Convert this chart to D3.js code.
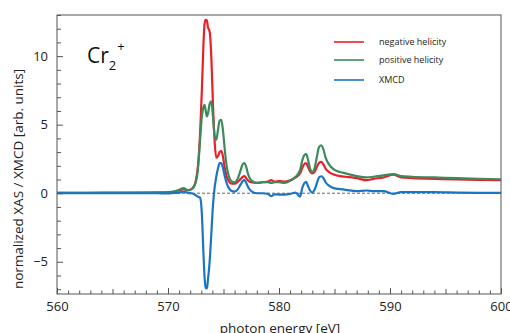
<!DOCTYPE html>
<html><head><meta charset="utf-8">
<script src="https://cdn.jsdelivr.net/npm/d3@7"></script>
<style>body{margin:0;background:#fff}svg{display:block}text{font-family:"Open Sans",sans-serif}</style>
</head><body><svg id="c" width="510" height="333"></svg>
<script>
const energy = [560,562,564,566,568,569,570,570.5,571,571.4,571.8,572.2,572.5,572.7,572.9,573.05,573.2,573.3,573.4,573.5,573.6,573.75,573.9,574.05,574.2,574.35,574.5,574.65,574.8,574.95,575.1,575.3,575.5,575.75,576.0,576.3,576.55,576.75,576.9,577.05,577.25,577.5,578.0,578.5,579.0,579.3,579.6,580.0,580.5,581.0,581.5,581.9,582.1,582.3,582.45,582.6,582.8,583.0,583.2,583.4,583.6,583.8,584.0,584.2,584.5,585.0,585.5,586.0,587.0,587.9,588.5,589.4,590.3,591,592,594,596,598,600];
const negHel = [0.02,0.02,0.03,0.03,0.04,0.05,0.07,0.1,0.2,0.3,0.2,0.35,0.9,2.0,4.5,7.5,11.0,12.4,12.65,12.6,12.1,11.8,10.0,6.5,3.8,2.6,2.7,3.0,3.1,2.7,1.9,1.2,0.85,0.7,0.7,0.85,1.05,1.2,1.25,1.1,0.9,0.8,0.75,0.8,0.85,0.95,0.85,0.9,0.85,0.95,1.15,1.45,1.85,2.15,2.2,1.95,1.6,1.45,1.55,1.9,2.2,2.28,2.1,1.8,1.55,1.35,1.25,1.2,1.1,0.95,1.05,1.15,1.35,1.15,1.1,1.05,1.0,0.97,0.95];
const posHel = [0.03,0.03,0.04,0.04,0.05,0.06,0.08,0.12,0.25,0.38,0.22,0.35,0.8,1.8,4.0,5.6,6.3,6.45,6.0,5.6,5.8,6.5,6.7,5.6,4.2,3.9,4.6,5.3,5.35,4.6,3.3,1.9,1.2,0.85,0.8,1.1,1.7,2.15,2.2,1.9,1.3,0.95,0.75,0.8,0.8,0.75,0.8,0.8,0.75,0.9,1.2,1.7,2.4,2.8,2.85,2.5,1.8,1.55,1.8,2.6,3.35,3.5,3.2,2.6,2.1,1.7,1.55,1.45,1.25,1.15,1.2,1.3,1.4,1.25,1.2,1.15,1.1,1.05,1.02];
const xmcd = [0,0,0,0,0,0,-0.02,0.02,0.05,0.12,0.02,-0.02,-0.15,-0.25,-0.35,-1.5,-4.5,-6.2,-6.9,-6.95,-6.3,-5.0,-3.0,-0.9,0.4,1.2,1.8,2.2,2.2,1.85,1.3,0.7,0.35,0.15,0.12,0.3,0.65,0.9,0.95,0.75,0.4,0.15,0,0,-0.05,-0.22,-0.08,-0.1,-0.1,-0.05,0.05,-0.25,0.4,0.75,0.83,0.55,0.2,0.05,0.25,0.7,1.15,1.24,1.1,0.8,0.55,0.35,0.3,0.25,0.15,0.2,0.15,0.15,-0.05,0.08,0.08,0.08,0.05,0.03,0.02];
const xTicks = [560,570,580,590,600];
const yTicks = [-5,0,5,10];
const seriesNames = ["negative helicity","positive helicity","XMCD"];
const seriesColors = ["#e8202a","#3d8a5c","#1b75c4"];

const svg = d3.select("#c");
const L=57,R=501,T=15,B=294;
const x = d3.scaleLinear().domain([560,600]).range([L,R]);
const y = d3.scaleLinear().domain([-7.35,13.0]).range([B,T]);

svg.append("defs").append("clipPath").attr("id","clip").append("rect").attr("x",L).attr("y",T).attr("width",R-L).attr("height",B-T);

// zero dashed line
svg.append("line").attr("x1",L).attr("x2",R).attr("y1",y(0)).attr("y2",y(0))
  .attr("stroke","#666").attr("stroke-width",1).attr("stroke-dasharray","3,2");

const line = d3.line().x(d=>x(d[0])).y(d=>y(d[1])).curve(d3.curveMonotoneX);
const series=[negHel,posHel,xmcd];
const g = svg.append("g").attr("clip-path","url(#clip)");
series.forEach((s,i)=>{
  g.append("path").datum(energy.map((e,j)=>[e,s[j]])).attr("d",line)
   .attr("fill","none").attr("stroke",seriesColors[i]).attr("stroke-width",2.2).attr("stroke-linejoin","round");
});

// frame
svg.append("rect").attr("x",L).attr("y",T).attr("width",R-L).attr("height",B-T).attr("fill","none").attr("stroke","#555").attr("stroke-width",1);

// x axis
const xAx = svg.append("g").attr("transform",`translate(0,${B})`)
 .call(d3.axisBottom(x).tickValues(d3.range(560,601,1)).tickSize(0).tickFormat(""));
xAx.select(".domain").remove();
xAx.selectAll(".tick line").attr("y2",d=>d%10===0?-6:(d%5===0?-5:-3.5)).attr("stroke","#555");
const xLab = svg.append("g").attr("transform",`translate(0,${B})`)
 .call(d3.axisBottom(x).tickValues(xTicks).tickSize(0).tickPadding(8).tickFormat(d3.format("d")));
xLab.select(".domain").remove();
xLab.selectAll("text").attr("font-size",13).attr("fill","#222");

// y axis
const yAx = svg.append("g").attr("transform",`translate(${L},0)`)
 .call(d3.axisLeft(y).tickValues(d3.range(-7,14,1)).tickSize(0).tickFormat(""));
yAx.select(".domain").remove();
yAx.selectAll(".tick line").attr("x2",d=>d%5===0?6:4).attr("stroke","#555");
const yLab = svg.append("g").attr("transform",`translate(${L},0)`)
 .call(d3.axisLeft(y).tickValues(yTicks).tickSize(0).tickPadding(9).tickFormat(d3.format("d")));
yLab.select(".domain").remove();
yLab.selectAll("text").attr("font-size",13).attr("fill","#222");

// axis titles
svg.append("text").attr("transform",`translate(23,179) rotate(-90)`).attr("text-anchor","middle")
  .attr("font-size",13.5).attr("fill","#222").text("normalized XAS / XMCD [arb. units]");
svg.append("text").attr("x",280).attr("y",333).attr("text-anchor","middle")
  .attr("font-size",13.5).attr("fill","#222").text("photon energy [eV]");

// Cr2+ label
const lab = svg.append("text").attr("x",87).attr("y",63).attr("font-size",21).attr("fill","#111");
lab.append("tspan").text("Cr");
lab.append("tspan").attr("font-size",13).attr("dy",7).text("2");
lab.append("tspan").attr("font-size",13).attr("dy",-19).attr("dx",1).text("+");

// legend
const legY=[42,60,80];
seriesNames.forEach((n,i)=>{
  svg.append("line").attr("x1",334).attr("x2",364).attr("y1",legY[i]).attr("y2",legY[i])
    .attr("stroke",seriesColors[i]).attr("stroke-width",1.6);
  svg.append("text").attr("x",379).attr("y",legY[i]+3).attr("font-size",9).attr("fill","#222").text(n);
});
</script></body></html>
